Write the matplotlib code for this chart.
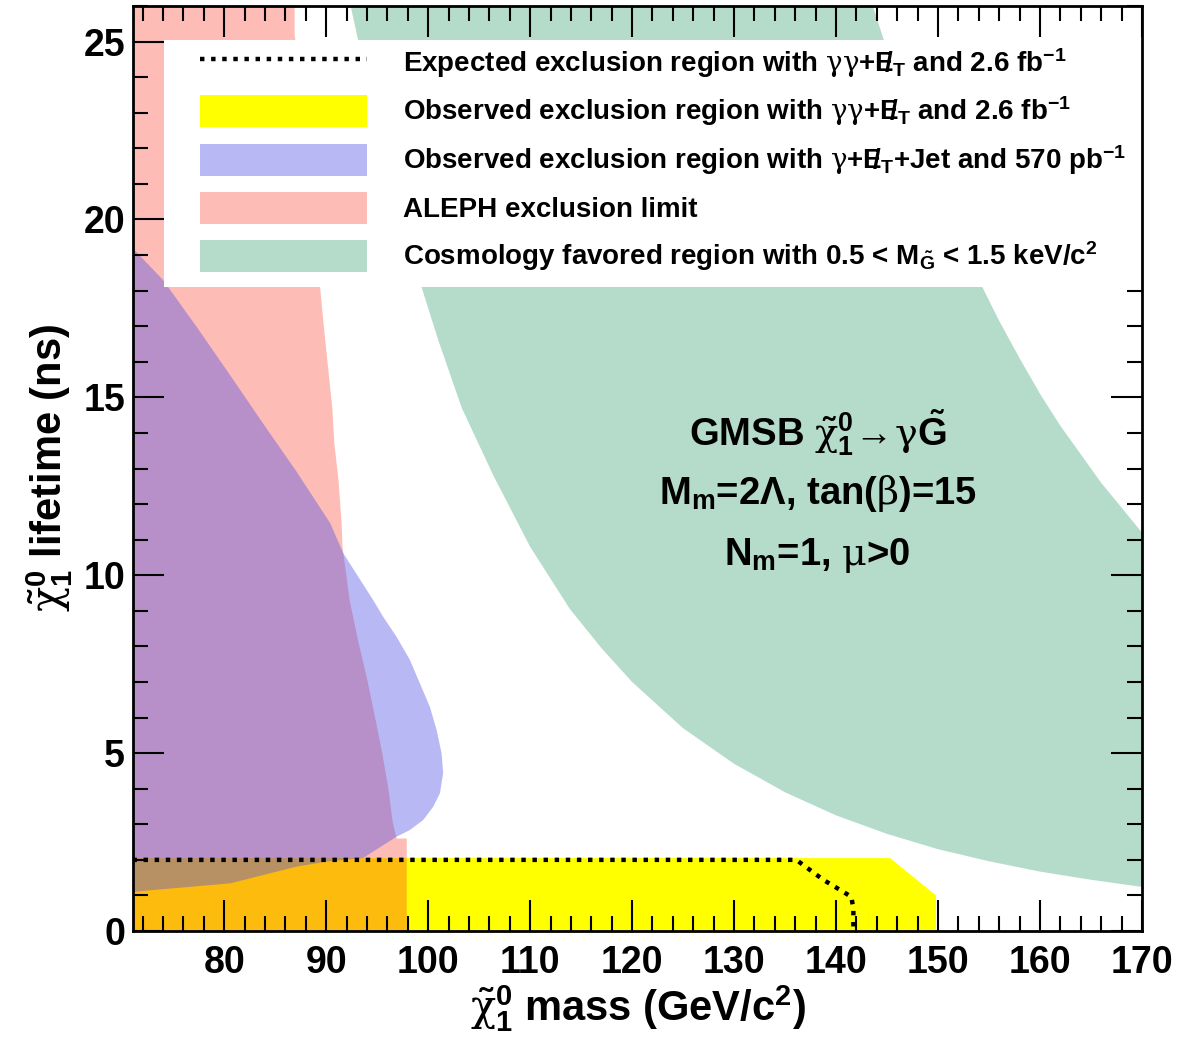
import matplotlib
matplotlib.use("Agg")
import matplotlib.pyplot as plt
from matplotlib.lines import Line2D
from matplotlib.patches import Patch, Rectangle
from matplotlib.ticker import MultipleLocator

plt.rcParams['font.family'] = ['Liberation Sans', 'DejaVu Sans']
plt.rcParams['font.weight'] = 'bold'
plt.rcParams['axes.labelweight'] = 'bold'
plt.rcParams['mathtext.fontset'] = 'custom'
plt.rcParams['mathtext.rm'] = 'Liberation Sans:bold'
plt.rcParams['mathtext.bf'] = 'Liberation Sans:bold'
plt.rcParams['mathtext.sf'] = 'Liberation Sans:bold'
# greek letters come out upright and thin, like the ROOT symbol font
plt.rcParams['mathtext.it'] = 'DejaVu Serif:style=normal:weight=normal'

# ----------------------- data -----------------------
# expected gamma-gamma + MET exclusion (dotted contour)
exp_x = [71.0, 136.1, 138.8, 140.6, 141.5, 141.7, 141.7]
exp_y = [2.0, 2.0, 1.43, 1.12, 0.96, 0.62, 0.0]

# observed gamma-gamma + MET exclusion (yellow)
obs_x = [71.0, 145.3, 149.8, 149.8, 71.0]
obs_y = [2.05, 2.05, 1.0, 0.0, 0.0]

# observed gamma + MET + jet exclusion, 570 pb-1 (blue)
jet_x = [71.0, 74.0, 77.3, 80.56, 83.8, 87.1, 90.4, 91.67, 94.61, 95.59,
         96.9, 98.21, 99.19, 100.17, 100.83, 101.32, 101.47, 101.15, 100.49,
         99.51, 98.21, 96.9, 93.6, 90.0, 87.1, 80.6, 71.0]
jet_y = [19.2, 18.3, 16.98, 15.63, 14.27, 12.91, 11.46, 10.62, 9.30, 8.83,
         8.27, 7.62, 6.96, 6.30, 5.65, 4.99, 4.43, 3.87, 3.49,
         3.12, 2.84, 2.65, 2.05, 1.95, 1.81, 1.34, 1.10]

# ALEPH exclusion limit (red)
aleph_x = [71.0, 97.9, 97.9, 96.9, 96.5, 96.1, 95.5, 94.8, 94.0, 93.1, 92.3,
           91.6, 91.5, 91.2, 90.8, 90.6, 90.2, 89.8, 89.4, 88.5, 86.9, 86.9,
           71.0]
aleph_y = [0.0, 0.0, 2.6, 2.6, 3.1, 4.0, 5.0, 6.0, 7.1, 8.2, 9.3,
           10.8, 11.5, 12.7, 13.7, 14.7, 15.8, 16.9, 18.1, 22.0, 25.2, 26.5,
           26.5]

# cosmology favoured band, 0.5 < m(G~) < 1.5 keV/c^2 (green)
cosmo_lo_x = [92.4, 95.0, 97.0, 99.35, 101.0, 103.3, 106.4, 110.0, 113.9,
              117.0, 120.0, 125.0, 130.0, 135.0, 140.0, 145.0, 150.0, 155.0,
              160.0, 165.0, 170.0]
cosmo_lo_y = [26.0, 22.6, 20.4, 18.1, 16.6, 14.7, 12.8, 10.8, 9.05,
              7.95, 7.0, 5.7, 4.7, 3.9, 3.25, 2.73, 2.3, 1.96,
              1.67, 1.44, 1.24]
cosmo_hi_x = [143.6, 146.0, 148.0, 150.0, 152.0, 154.0, 156.0, 158.0,
              160.0, 162.0, 164.0, 166.0, 168.0, 170.0]
cosmo_hi_y = [26.0, 23.9, 22.3, 20.9, 19.55, 18.3, 17.15, 16.1,
              15.1, 14.2, 13.4, 12.6, 11.9, 11.2]

leg_labels = [
    r'Expected exclusion region with $\gamma\gamma$+$\mathrm{E}\!\!/_{\mathrm{T}}$ and 2.6 fb$^{\mathrm{-1}}$',
    r'Observed exclusion region with $\gamma\gamma$+$\mathrm{E}\!\!/_{\mathrm{T}}$ and 2.6 fb$^{\mathrm{-1}}$',
    r'Observed exclusion region with $\gamma$+$\mathrm{E}\!\!/_{\mathrm{T}}$+Jet and 570 pb$^{\mathrm{-1}}$',
    'ALEPH exclusion limit',
    r'Cosmology favored region with 0.5 < M$_{\tilde{\mathrm{G}}}$ < 1.5 keV/c$^{2}$',
]

YELLOW = '#ffff00'
RED = (0.98, 0.24, 0.16)
BLUE = (0.31, 0.31, 0.90)
GREEN = (0.24, 0.63, 0.47)
A_RED, A_BLUE, A_GREEN = 0.34, 0.4, 0.38

# ----------------------- plot -----------------------
fig = plt.figure(figsize=(11.78, 10.4), dpi=100)
ax = fig.add_axes([0.1133, 0.1048, 0.8561, 0.8894])

ax.fill(cosmo_lo_x + cosmo_hi_x[::-1], cosmo_lo_y + cosmo_hi_y[::-1],
        color=GREEN, alpha=A_GREEN, lw=0, zorder=1)
ax.fill(obs_x, obs_y, color=YELLOW, lw=0, zorder=1.1)
ax.fill(aleph_x, aleph_y, color=RED, alpha=A_RED, lw=0, zorder=1.2)
ax.fill(jet_x, jet_y, color=BLUE, alpha=A_BLUE, lw=0, zorder=1.3)
ax.plot(exp_x, exp_y, color='black', lw=3.2, ls=(0, (1, 1.5)),
        solid_capstyle='butt', dash_capstyle='butt', zorder=1.5)

ax.set_xlim(71.1, 170)
ax.set_ylim(0, 26)
ax.xaxis.set_major_locator(MultipleLocator(10))
ax.xaxis.set_minor_locator(MultipleLocator(2))
ax.yaxis.set_major_locator(MultipleLocator(5))
ax.yaxis.set_minor_locator(MultipleLocator(1))
ax.tick_params(which='both', direction='in', top=True, right=True,
               width=1.5, labelsize=27, zorder=3)
ax.tick_params(which='major', length=22)
ax.tick_params(which='minor', length=11)
ax.tick_params(axis='x', pad=10)
ax.tick_params(axis='y', pad=6)
for sp in ax.spines.values():
    sp.set_linewidth(2)

ax.set_xlabel(r'$\tilde{\chi}^{0}_{1}$ mass (GeV/c$^{2}$)', fontsize=30,
              labelpad=2)
ax.set_ylabel(r'$\tilde{\chi}^{0}_{1}$ lifetime (ns)', fontsize=30,
              labelpad=6)

ax.text(138.2, 14.0,
        r'GMSB $\tilde{\chi}^{0}_{1}\!\rightarrow\!\gamma\tilde{\mathrm{G}}$',
        fontsize=27.5, ha='center', va='center')
ax.text(138.2, 12.3, r'M$_{\mathrm{m}}$=2$\Lambda$, tan($\beta$)=15',
        fontsize=27.5, ha='center', va='center')
ax.text(138.2, 10.55, r'N$_{\mathrm{m}}$=1, $\mu$>0',
        fontsize=27.5, ha='center', va='center')

# legend box (white, no border) covering the upper part of the frame
ax.add_patch(Rectangle((0.03, 0.696), 0.97, 0.267, transform=ax.transAxes,
                       facecolor='white', edgecolor='none', zorder=2.2))
handles = [
    Line2D([], [], color='black', lw=3.2, ls=(0, (1, 1.5)),
           dash_capstyle='butt'),
    Patch(facecolor=YELLOW, edgecolor='none'),
    Patch(facecolor=BLUE, alpha=A_BLUE, edgecolor='none'),
    Patch(facecolor=RED, alpha=A_RED, edgecolor='none'),
    Patch(facecolor=GREEN, alpha=A_GREEN, edgecolor='none'),
]
leg = ax.legend(handles, leg_labels, loc='upper left',
                bbox_to_anchor=(0.066, 0.957), borderaxespad=0, borderpad=0,
                frameon=False, fontsize=20, handlelength=6.0,
                handleheight=1.4, handletextpad=1.3, labelspacing=0.54)
leg.set_zorder(2.3)

fig.savefig('out.png', dpi=100)
